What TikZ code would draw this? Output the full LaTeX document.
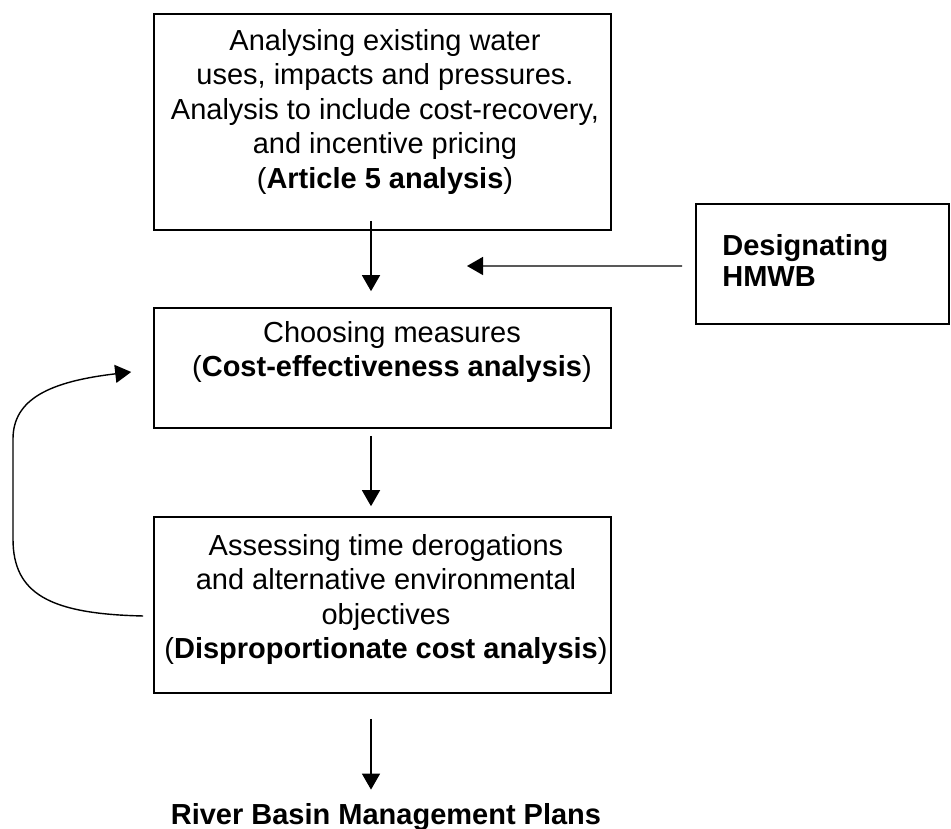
\documentclass[tikz,border=0pt]{standalone}
\usepackage{fontspec}
\setmainfont{Liberation Sans}
\usetikzlibrary{arrows.meta,calc}

\begin{document}
\begin{tikzpicture}[
    box/.style={draw, line width=0.9pt, inner sep=0pt},
    txt/.style={align=center, inner sep=0pt, font=\fontsize{16.5}{19.6}\selectfont},
    arr/.style={line width=0.8pt, -{Triangle[length=0.32cm,width=0.36cm]}}
  ]
    \useasboundingbox (0,0) rectangle (19.02,16.58);

    \node[box, minimum width=9.14cm, minimum height=4.32cm] (analyse) at (7.65,14.14) {};
    \node[txt, anchor=north] (analysetxt) at (7.70,16.0) {Analysing existing water\\ uses, impacts and pressures.\\ Analysis to include cost-recovery,\\ and incentive pricing\\ (\textbf{Article 5 analysis})};

    \node[box, minimum width=9.14cm, minimum height=2.40cm] (choose) at (7.65,9.22) {};
    \node[txt, anchor=north] (choosetxt) at (7.84,10.16) {Choosing measures\\ (\textbf{Cost-effectiveness analysis})};

    \node[box, minimum width=9.14cm, minimum height=3.52cm] (assess) at (7.65,4.48) {};
    \node[txt, anchor=north] (assesstxt) at (7.72,5.90) {Assessing time derogations\\ and alternative environmental\\ objectives\\ (\textbf{Disproportionate cost analysis})};

    \node[box, minimum width=5.06cm, minimum height=2.40cm] (hmwb) at (16.45,11.30) {};
    \node[txt, align=left, anchor=north west, font=\fontsize{16.5}{17.5}\selectfont\bfseries] (hmwbtxt) at (14.44,11.90) {Designating\\ HMWB};

    \node[txt, anchor=base, font=\fontsize{16.5}{19.6}\selectfont\bfseries] (rbmp) at (7.72,0.08) {River Basin Management Plans};

    \coordinate (merge) at (9.34,11.26);

    \draw[arr] ([xshift=-0.23cm,yshift=0.2cm]analyse.south) -- ([xshift=-0.23cm,yshift=0.32cm]choose.north);
    \draw[arr] ([xshift=-0.26cm,yshift=-0.04cm]hmwb.west) -- (merge);
    \draw[arr] ([xshift=-0.23cm,yshift=-0.14cm]choose.south) -- ([xshift=-0.23cm,yshift=0.2cm]assess.north);
    \draw[arr] ([xshift=-0.23cm,yshift=-0.5cm]assess.south) -- ($(assess.south |- rbmp.north)+(-0.23,0.28)$);
    \draw[arr] ([xshift=-0.2cm,yshift=-0.22cm]assess.west) .. controls (1.0,4.3) and (0.26,4.7) .. (0.26,5.8)
        -- (0.26,7.8) .. controls (0.26,8.6) and (1.0,8.95) .. ([xshift=-0.44cm,yshift=-0.08cm]choose.west);
\end{tikzpicture}
\end{document}
